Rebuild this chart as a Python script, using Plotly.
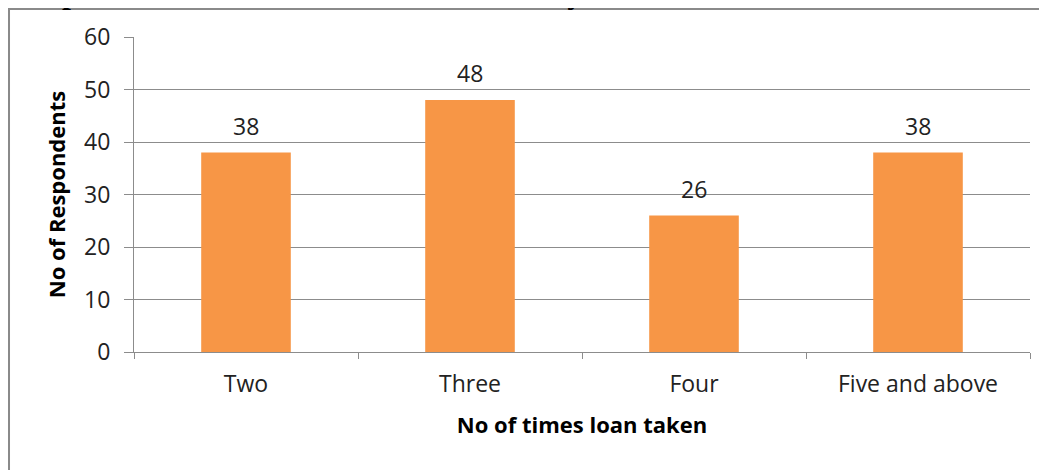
import plotly.graph_objects as go

categories = ["Two", "Three", "Four", "Five and above"]
respondents = [38, 48, 26, 38]
y_ticks = [0, 10, 20, 30, 40, 50, 60]
title_text = "Graph 4: Number of times loan availed by the SHG members in Karnataka"
x_title = "No of times loan taken"
y_title = "No of Respondents"

FONT = "Open Sans"
GRID = "#8c8c8c"
BAR = "#F79646"

fig = go.Figure()
fig.add_trace(go.Bar(
    x=categories, y=respondents,
    marker=dict(color=BAR, line=dict(width=0)),
    hoverinfo="skip",
))

for c, v in zip(categories, respondents):
    fig.add_annotation(
        x=c, y=v, xref="x", yref="y", text=str(v), showarrow=False,
        yanchor="bottom", yshift=9,
        font=dict(family=FONT, size=23, color="#222222"),
    )

# cut-off title at the very top of the picture
fig.add_annotation(
    x=-0.144, y=1.079, xref="paper", yref="paper", text="<b>" + title_text + "</b>",
    showarrow=False, xanchor="left", yanchor="bottom",
    font=dict(family="Liberation Serif", size=32, color="#000000"),
)

# outer frame
fig.add_shape(type="rect", xref="paper", yref="paper",
              x0=-0.1395, x1=1.026, y0=-0.40, y1=1.0889,
              line=dict(color="#8a8a8a", width=2), layer="below")

fig.update_layout(
    width=1039, height=462,
    margin=dict(l=126, r=17, t=29, b=118),
    paper_bgcolor="white", plot_bgcolor="white",
    bargap=0.6, showlegend=False,
    font=dict(family=FONT, color="#222222"),
)
fig.update_xaxes(
    type="category", tickson="boundaries", ticks="outside", ticklen=6,
    tickcolor=GRID, tickwidth=1,
    showline=True, linecolor=GRID, linewidth=1,
    showgrid=False,
    tickfont=dict(family=FONT, size=23, color="#222222"),
    ticklabelstandoff=11,
    title=dict(text="<b>" + x_title + "</b>", font=dict(family=FONT, size=22, color="#000000"), standoff=20),
)
fig.update_yaxes(
    range=[0, 60], tickvals=y_ticks, ticks="outside", ticklen=9,
    tickcolor=GRID, tickwidth=1,
    showline=True, linecolor=GRID, linewidth=1,
    showgrid=True, gridcolor=GRID, gridwidth=1,
    zeroline=False,
    tickfont=dict(family=FONT, size=23, color="#222222"),
    ticklabelstandoff=9,
    title=dict(text="<b>" + y_title + "</b>", font=dict(family=FONT, size=22, color="#000000"), standoff=12),
)

fig.write_html("out.html")
